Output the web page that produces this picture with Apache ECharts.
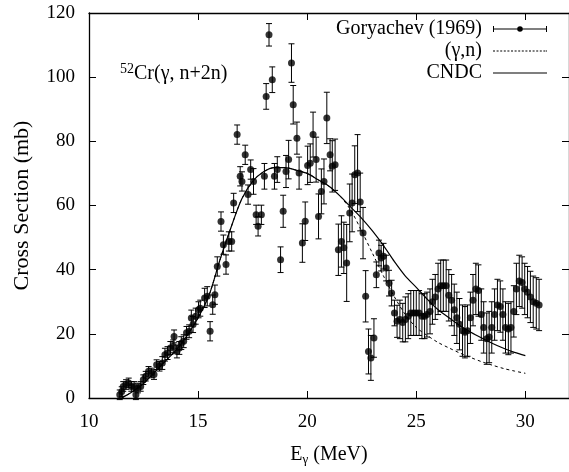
<!DOCTYPE html>
<html>
<head>
<meta charset="utf-8">
<script src="https://cdn.jsdelivr.net/npm/echarts@6/dist/echarts.min.js"></script>
<style>html,body{margin:0;padding:0;background:#fff}#c{width:569px;height:472px}</style>
</head>
<body>
<div id="c"></div>
<script>
// Goryachev (1969) data: energy (MeV), cross section (mb), error (mb)
const expE = [11.41,11.5,11.57,11.7,11.82,11.94,12.07,12.15,12.24,12.37,12.49,12.6,12.73,12.87,12.98,13.1,13.23,13.36,13.48,13.6,13.73,13.86,13.9,14.03,14.14,14.23,14.34,14.47,14.59,14.69,14.77,14.89,15.02,15.1,15.3,15.42,15.55,15.67,15.77,15.88,16.05,16.16,16.28,16.41,16.54,16.63,16.79,16.93,17.01,17.16,17.29,17.41,17.54,17.66,17.75,17.9,18.04,18.12,18.25,18.4,18.5,18.63,18.78,18.9,19.03,19.15,19.28,19.36,19.53,19.63,19.78,19.91,20.02,20.14,20.27,20.41,20.52,20.65,20.77,20.9,21.05,21.15,21.28,21.43,21.57,21.68,21.81,21.95,22.06,22.18,22.31,22.43,22.56,22.68,22.81,22.92,23.06,23.17,23.29,23.39,23.5,23.62,23.75,23.87,24.0,24.12,24.25,24.38,24.5,24.63,24.75,24.88,25.0,25.13,25.26,25.38,25.49,25.63,25.74,25.87,26.0,26.12,26.24,26.37,26.49,26.62,26.74,26.86,26.98,27.12,27.23,27.35,27.48,27.6,27.73,27.85,27.98,28.09,28.23,28.34,28.46,28.59,28.72,28.85,28.97,29.09,29.22,29.34,29.47,29.59,29.72,29.85,29.97,30.1,30.23,30.36,30.5,30.63];
const expXS = [1,2,3.6,4.2,4.7,3.6,3.6,1,3.1,3.6,5.7,6.8,8.3,7.8,7.3,10.4,9.9,10.9,13.5,14,15.6,16.1,19.2,14.5,15.6,17.1,17.7,20.3,20.8,24.9,22.9,25.5,27.5,28,31.2,31.7,20.8,29.1,32.2,41,55,47.8,41.6,48.8,48.8,60.8,82.1,69.1,67.5,75.8,63.4,71.2,67.5,57.1,53.5,57.1,69.1,94,113.2,99.2,69.1,71.2,43.1,58.2,70.6,74.3,104.4,91.4,81,70.1,48.3,55.1,72.5,73.2,82.1,74.3,56.6,64.4,67.5,87.3,75.8,72.2,72.7,46.2,48.8,46.8,42.1,57.7,60.8,69.6,70.1,61.1,51.4,31.7,14.5,12.5,18.7,38.4,45.2,43.6,44.2,40.5,35.8,32.7,26.5,23.9,24.5,23.5,24.5,25.5,26.5,26.5,26.5,26.5,25.5,25.5,26,27,30,31.5,34,35,35,35,32,30.5,27.5,25,23,21,20.5,21,25,30.5,34,33.5,26,22,18.5,19,22,26,29,28.5,26,22,21.5,22,27,34,36.5,36,34,33,31.5,30,29.5,29];
const expErr = [1.5,1.5,1.5,1.5,1.5,1.5,1.5,1.5,1.5,1.5,1.5,1.5,1.5,1.5,1.5,1.5,1.5,2,2,2,2,2,2,2,2,2,2,2,2,2.5,2.5,2.5,2.5,2.5,3,3,3,3,3,3,3,3,3,3,3,3,3,3,3,3,3,3,4,3,3,3,4,4,3.5,4,4,4,4,5,5,6,6,6,5,5,6,6,6,6,7,7,7,7,7,8,5,8,8,8,8,8,12,9,9,9,12,9,8,8,7,7,6,4,4,4,4,4,4,4,4,5,6,6,7,7,7,7,7,7,7,7,7,7,7,7,8,8,8,8,8,8,8,8,8,8,8,8,8,8,8,8,8,8,8,8,8,8,8,8,8,8,8,8,8,8,8,8,8,8,8,8,8,8,8];
// CNDC evaluation curve
const cndcE = [11.5,12,12.5,13,13.5,14,14.5,15,15.5,16,16.5,17,17.5,18,18.5,19,19.5,20,20.5,21,21.5,22,22.5,23,23.5,24,24.5,25,25.5,26,26.5,27,27.5,28,28.5,29,29.5,30];
const cndcXS = [0,2,4.5,8,11.5,15,19.5,25,32,43,53,62,67.5,70.5,71.8,71.8,71,70,68,66,63,59.5,56,52,47.5,42.5,38,34.5,30.8,27.5,25,22.5,20.5,18.7,17,15.5,14.2,13.2];
// (γ,n) curve
const gnE = [11.5,12,12.5,13,13.5,14,14.5,15,15.5,16,16.5,17,17.5,18,18.5,19,19.5,20,20.5,21,21.5,22,22.5,23,23.5,24,24.5,25,25.5,26,26.5,27,27.5,28,28.5,29,29.5,30];
const gnXS = [0,2,4.5,8,11.5,15,19.5,25,32,43,53,62,67.5,70.5,71.8,71.8,71,70,68,66,63,58.5,52,45,38,31.5,26,22,19.5,17.3,15.6,14,12.6,11.3,10.2,9.2,8.4,7.7];
// axis ticks
const xTicks = [10,15,20,25,30];
const yTicks = [0,20,40,60,80,100,120];

const SERIF = 'Liberation Serif';
const chart = echarts.init(document.getElementById('c'), null, {renderer:'canvas'});

const pts = expE.map((e,i)=>[e, expXS[i]]);
const bars = expE.map((e,i)=>[e, expXS[i]-expErr[i], expXS[i]+expErr[i]]);
const cndc = cndcE.map((e,i)=>[e, cndcXS[i]]);
const gn = gnE.map((e,i)=>[e, gnXS[i]]);

const expIcon = 'path://M0,2.5H54V3.5H0Z M0,0H1V6H0Z M53,0H54V6H53Z M24.2,3A2.8,2.8,0,1,1,29.8,3A2.8,2.8,0,1,1,24.2,3Z';
const solidIcon = 'path://M0,0H54V1H0Z';
let dashPath = 'path://';
for (let x = 0; x < 54; x += 3.6) { const x2 = Math.min(x + 2, 54); dashPath += 'M' + x.toFixed(1) + ',0H' + x2.toFixed(1) + 'V1H' + x.toFixed(1) + 'Z '; }
dashPath += 'M53,0H54V1H53Z';

const legendBase = {
  orient:'horizontal', align:'right', right:22, itemGap:0, padding:0,
  itemWidth:54, selectedMode:false,
  textStyle:{fontFamily:SERIF, fontSize:20, color:'#000', padding:[0,6,0,0]}
};

const commonX = {
  type:'value', min:10, max:32, interval:5,
  axisLine:{show:true, onZero:false, lineStyle:{color:'#000', width:1.3}},
  axisTick:{show:true, inside:true, length:7, lineStyle:{color:'#000', width:1}},
  splitLine:{show:false}
};
const commonY = {
  type:'value', min:0, max:120, interval:20,
  axisLine:{show:true, onZero:false, lineStyle:{color:'#000', width:1.3}},
  axisTick:{show:true, inside:true, length:7, lineStyle:{color:'#000', width:1}},
  splitLine:{show:false}
};

chart.setOption({
  animation:false,
  backgroundColor:'#fff',
  grid:{left:89, top:13, width:482, height:385},
  legend:[
    Object.assign({}, legendBase, {top:19, itemHeight:6, data:[{name:'Goryachev (1969)', icon:expIcon}]}),
    Object.assign({}, legendBase, {top:41, itemHeight:1, data:[{name:'(γ,n)', icon:dashPath}]}),
    Object.assign({}, legendBase, {top:63, itemHeight:1, data:[{name:'CNDC', icon:solidIcon}]})
  ],
  xAxis:[
    Object.assign({}, commonX, {position:'bottom',
      axisLabel:{show:true, fontFamily:SERIF, fontSize:19, color:'#000', margin:15, showMaxLabel:false,
        formatter:v=> xTicks.includes(v) ? String(v) : ''},
      name:'{e|E}{g|γ}{e| (MeV)}', nameLocation:'middle', nameGap:45,
      nameTextStyle:{rich:{e:{fontFamily:SERIF, fontSize:20, color:'#000'}, g:{fontFamily:SERIF, fontSize:13, color:'#000', padding:[10,0,0,0]}}}
    }),
    Object.assign({}, commonX, {position:'top', axisLabel:{show:false}})
  ],
  yAxis:[
    Object.assign({}, commonY, {position:'left',
      axisLabel:{show:true, fontFamily:SERIF, fontSize:19, color:'#000', margin:14,
        formatter:v=> yTicks.includes(v) ? String(v) : ''},
      name:'Cross Section (mb)', nameLocation:'middle', nameGap:56,
      nameTextStyle:{fontFamily:SERIF, fontSize:22, color:'#000'}
    }),
    Object.assign({}, commonY, {position:'right', axisLabel:{show:false}})
  ],
  graphic:[{
    type:'text', left:120, top:62,
    style:{
      text:'{s|52}{t|Cr(γ, n+2n)}',
      rich:{s:{fontFamily:SERIF, fontSize:14, color:'#000', padding:[0,0,9,0]}, t:{fontFamily:SERIF, fontSize:20, color:'#000'}}
    }
  }],
  series:[
    {
      name:'(γ,n)', type:'line', data:gn, smooth:0.3, symbol:'none',
      lineStyle:{color:'#000', width:1, type:[3,3]}, itemStyle:{color:'#000'}, z:2
    },
    {
      name:'CNDC', type:'line', data:cndc, smooth:0.3, symbol:'none',
      lineStyle:{color:'#000', width:1.2, type:'solid'}, itemStyle:{color:'#000'}, z:3
    },
    {
      name:'Goryachev (1969)', type:'custom', data:bars, z:4,
      itemStyle:{color:'#000'},
      renderItem:function(params, api){
        const x = api.value(0), lo = api.value(1), hi = api.value(2);
        const a = api.coord([x, lo]), b = api.coord([x, hi]);
        const w = 3;
        const st = {stroke:'#000', lineWidth:1};
        return {type:'group', children:[
          {type:'line', shape:{x1:a[0], y1:a[1], x2:b[0], y2:b[1]}, style:st},
          {type:'line', shape:{x1:a[0]-w, y1:a[1], x2:a[0]+w, y2:a[1]}, style:st},
          {type:'line', shape:{x1:b[0]-w, y1:b[1], x2:b[0]+w, y2:b[1]}, style:st}
        ]};
      }
    },
    {
      name:'Goryachev (1969)', type:'scatter', data:pts, symbol:'circle', symbolSize:7,
      itemStyle:{color:'#000'}, z:5
    }
  ]
});
</script>
</body>
</html>
